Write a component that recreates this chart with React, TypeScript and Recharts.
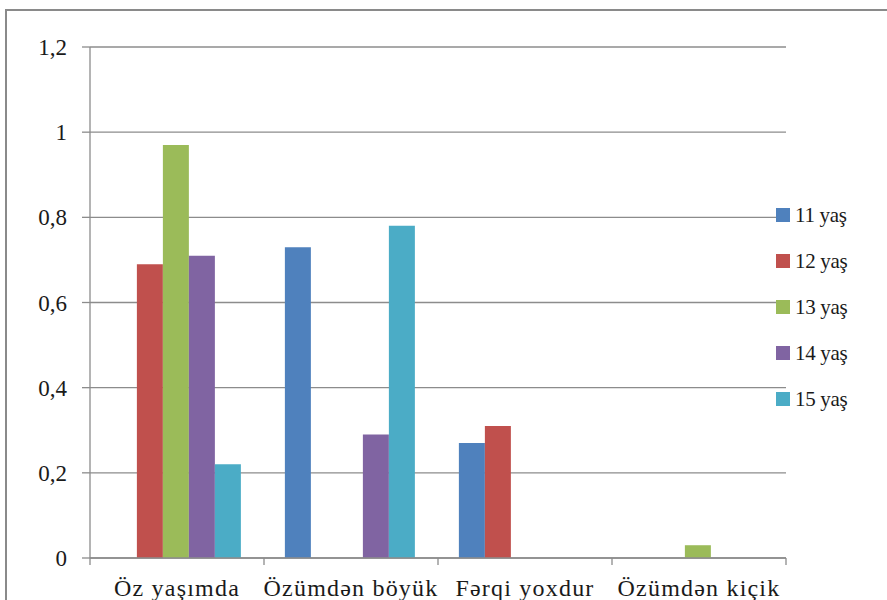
import { BarChart, Bar, XAxis, YAxis, CartesianGrid } from 'recharts';

const categories = ['Öz yaşımda', 'Özümdən böyük', 'Fərqi yoxdur', 'Özümdən kiçik'];
const age11 = [0, 0.73, 0.27, 0];
const age12 = [0.69, 0, 0.31, 0];
const age13 = [0.97, 0, 0, 0.03];
const age14 = [0.71, 0.29, 0, 0];
const age15 = [0.22, 0.78, 0, 0];
const seriesNames = ['11 yaş', '12 yaş', '13 yaş', '14 yaş', '15 yaş'];
const yTicks = [0, 0.2, 0.4, 0.6, 0.8, 1, 1.2];

const COLORS = ['#4f81bd', '#c0504d', '#9bbb59', '#8064a2', '#4bacc6'];
const GRID = '#8c8c8c';
const FONT = "'Liberation Serif', Tinos, 'Noto Serif', 'DejaVu Serif', serif";
const PLOT_LEFT = 90;
const PLOT_RIGHT = 786;
const BAND = (PLOT_RIGHT - PLOT_LEFT) / categories.length;

const data = categories.map((name, i) => ({
  name,
  s11: age11[i],
  s12: age12[i],
  s13: age13[i],
  s14: age14[i],
  s15: age15[i],
}));

const keys = ['s11', 's12', 's13', 's14', 's15'];

// category ticks sit on the band edges, labels in the middle
function CategoryTick(props: any) {
  const { x, y, payload, index } = props;
  const half = BAND / 2;
  return (
    <g>
      <line x1={x - half} y1={y} x2={x - half} y2={y + 7} stroke={GRID} strokeWidth={1.3} />
      {index === categories.length - 1 && (
        <line x1={x + half} y1={y} x2={x + half} y2={y + 7} stroke={GRID} strokeWidth={1.3} />
      )}
      <text
        x={x}
        y={y + 38}
        textAnchor="middle"
        fill="#1a1a1a"
        style={{ fontFamily: FONT, fontSize: 24, letterSpacing: 1.2 }}
      >
        {payload.value}
      </text>
    </g>
  );
}

function AgeLegend() {
  return (
    <div style={{ position: 'absolute', left: 776, top: 192, fontFamily: FONT, fontSize: 21, color: '#1a1a1a' }}>
      {seriesNames.map((n, i) => (
        <div key={n} style={{ display: 'flex', alignItems: 'center', height: 46 }}>
          <span style={{ width: 14, height: 14, background: COLORS[i], marginRight: 5, display: 'inline-block' }} />
          <span style={{ letterSpacing: -0.3 }}>{n}</span>
        </div>
      ))}
    </div>
  );
}

export default function App() {
  return (
    <div style={{ position: 'absolute', left: 0, top: 0, width: 887, height: 600, background: '#fff', overflow: 'hidden', fontFamily: FONT }}>
      <div
        style={{
          position: 'absolute',
          left: 5,
          top: 9,
          width: 900,
          height: 620,
          border: '2px solid #8a8a8a',
          boxSizing: 'border-box',
        }}
      />
      <BarChart
        width={887}
        height={600}
        data={data}
        margin={{ top: 47, right: 887 - PLOT_RIGHT, bottom: 0, left: 0 }}
        barCategoryGap="12%"
        barGap={0}
        style={{ fontFamily: FONT }}
      >
        <CartesianGrid vertical={false} stroke={GRID} strokeWidth={1.3} />
        <XAxis
          dataKey="name"
          height={42}
          axisLine={{ stroke: GRID, strokeWidth: 1.3 }}
          tickLine={false}
          tickSize={0}
          tickMargin={0}
          interval={0}
          tick={<CategoryTick />}
        />
        <YAxis
          width={PLOT_LEFT}
          domain={[0, 1.2]}
          ticks={yTicks}
          interval={0}
          axisLine={{ stroke: GRID, strokeWidth: 1.3 }}
          tickLine={{ stroke: GRID, strokeWidth: 1.3 }}
          tickSize={8}
          tickMargin={15}
          tick={{ fontSize: 23, fill: '#1a1a1a', style: { fontFamily: FONT } }}
          tickFormatter={(v: number) => String(v).replace('.', ',')}
        />
        {keys.map((k, i) => (
          <Bar key={k} dataKey={k} name={seriesNames[i]} fill={COLORS[i]} isAnimationActive={false} />
        ))}
      </BarChart>
      <AgeLegend />
    </div>
  );
}
